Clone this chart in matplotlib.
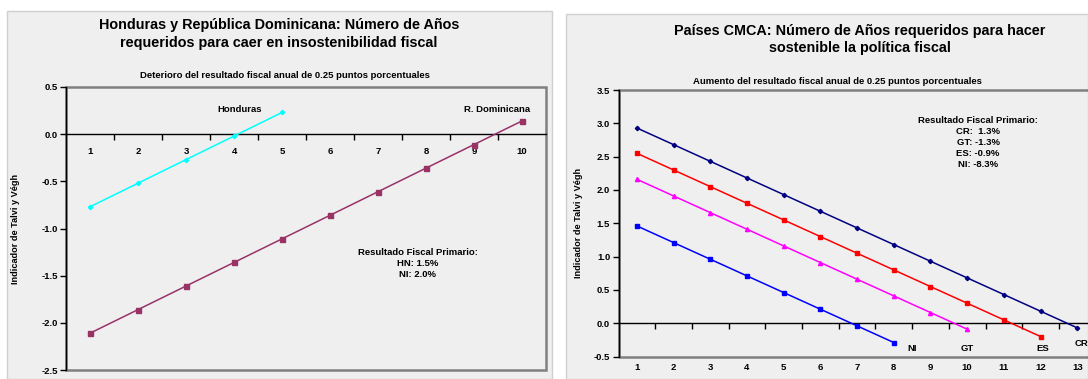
"""Recreate the two Talvi-Vegh sustainability panels (Honduras/RD and CMCA)."""

import matplotlib
matplotlib.use("Agg")
import matplotlib.pyplot as plt
import matplotlib.transforms as mtransforms
from matplotlib.patches import Rectangle

plt.rcParams["font.family"] = ["Liberation Sans", "DejaVu Sans"]
plt.rcParams["font.weight"] = "bold"

# --- left panel data -------------------------------------------------------
left_years = [1, 2, 3, 4, 5, 6, 7, 8, 9, 10]
honduras_years = [1, 2, 3, 4, 5]
honduras = [-0.77, -0.52, -0.27, -0.02, 0.23]
rdom_years = [1, 2, 3, 4, 5, 6, 7, 8, 9, 10]
rdom = [-2.11, -1.86, -1.61, -1.36, -1.11, -0.86, -0.61, -0.36, -0.11, 0.14]
left_yticks = [-2.5, -2.0, -1.5, -1.0, -0.5, 0.0, 0.5]

# --- right panel data ------------------------------------------------------
right_years = [1, 2, 3, 4, 5, 6, 7, 8, 9, 10, 11, 12, 13]
cr_years = [1, 2, 3, 4, 5, 6, 7, 8, 9, 10, 11, 12, 13]
cr = [2.93, 2.68, 2.43, 2.18, 1.93, 1.68, 1.43, 1.18, 0.93, 0.68, 0.43, 0.18, -0.07]
es_years = [1, 2, 3, 4, 5, 6, 7, 8, 9, 10, 11, 12]
es = [2.55, 2.30, 2.05, 1.80, 1.55, 1.30, 1.05, 0.80, 0.55, 0.30, 0.05, -0.20]
gt_years = [1, 2, 3, 4, 5, 6, 7, 8, 9, 10]
gt = [2.16, 1.91, 1.66, 1.41, 1.16, 0.91, 0.66, 0.41, 0.16, -0.09]
ni_years = [1, 2, 3, 4, 5, 6, 7, 8]
ni = [1.46, 1.21, 0.96, 0.71, 0.46, 0.21, -0.04, -0.29]
right_yticks = [-0.5, 0.0, 0.5, 1.0, 1.5, 2.0, 2.5, 3.0, 3.5]

W, H = 1088, 379
fig = plt.figure(figsize=(W / 100, H / 100), dpi=100)
fig.patch.set_facecolor("white")

SMALL = 6.8


def fx(px):
    return px / W


def fy(py):
    return 1 - py / H


# chart-area backgrounds
for x0, y0, x1 in [(7, 11, 552), (566, 14, 1088)]:
    fig.patches.append(Rectangle((fx(x0), 0), fx(x1 - x0), fy(y0), transform=fig.transFigure,
                                 facecolor="#EFEFEF", edgecolor="#D0D0D0", lw=1.0, zorder=-5))


def style_axes(ax, yticks):
    ax.set_facecolor("none")
    ax.patch.set_edgecolor("#808080")
    ax.patch.set_linewidth(1.8)
    for side in ["top", "right"]:
        ax.spines[side].set_visible(False)
    ax.spines["left"].set_color("black")
    ax.spines["left"].set_linewidth(1.0)
    ax.spines["bottom"].set_position(("data", 0))
    ax.spines["bottom"].set_color("black")
    ax.spines["bottom"].set_linewidth(1.0)
    ax.set_yticks(yticks)
    ax.set_yticklabels([f"{v:.1f}" for v in yticks])
    ax.tick_params(axis="y", direction="out", length=4, width=1, labelsize=SMALL, pad=2)
    ax.set_ylabel("Indicador de Talvi y Végh", fontsize=6.6, fontweight="bold")


# --- left panel ------------------------------------------------------------
axl = fig.add_axes([fx(66), fy(370), fx(546 - 66), fy(87) - fy(370)])
style_axes(axl, left_yticks)
axl.set_xlim(0.5, len(left_years) + 0.5)
axl.set_ylim(-2.5, 0.5)
axl.set_xticks(left_years)
axl.set_xticklabels([str(v) for v in left_years])
axl.set_xticks([v + 0.5 for v in left_years[:-1]], minor=True)
axl.tick_params(axis="x", which="major", length=0, labelsize=SMALL, pad=9)
axl.tick_params(axis="x", which="minor", direction="out", length=4, width=1)
axl.plot(honduras_years, honduras, color="#00FFFF", lw=1.1, marker="D", ms=2.2, zorder=3)
axl.plot(rdom_years, rdom, color="#993366", lw=1.1, marker="s", ms=3.6, zorder=3)
axl.text(4.12, 0.26, "Honduras", fontsize=SMALL, ha="center", va="center")
axl.text(9.48, 0.26, "R. Dominicana", fontsize=SMALL, ha="center", va="center")
axl.text(7.83, -1.37, "Resultado Fiscal Primario:\nHN: 1.5%\nNI: 2.0%", fontsize=SMALL,
         ha="center", va="center", multialignment="center", linespacing=1.3)
axl.yaxis.set_label_coords(-0.095, 0.5)

fig.text(fx(279), fy(25), "Honduras y República Dominicana: Número de Años",
         ha="center", va="center", fontsize=10.4, fontweight="bold")
fig.text(fx(279), fy(43), "requeridos para caer en insostenibilidad fiscal",
         ha="center", va="center", fontsize=10.4, fontweight="bold")
fig.text(fx(285), fy(76), "Deterioro del resultado fiscal anual de 0.25 puntos porcentuales",
         ha="center", va="center", fontsize=6.8, fontweight="bold")

# --- right panel -----------------------------------------------------------
n_slots = len(right_years) + 1
slot = 36.7
axr = fig.add_axes([fx(618.5), fy(356.5), fx(n_slots * slot), fy(90) - fy(356.5)])
style_axes(axr, right_yticks)
axr.set_xlim(0.5, n_slots + 0.5)
axr.set_ylim(-0.5, 3.5)
axr.set_xticks([])
axr.set_xticks([v + 0.5 for v in right_years], minor=True)
axr.tick_params(axis="x", which="minor", direction="out", length=4, width=1)
lowlab = mtransforms.blended_transform_factory(axr.transData, axr.transAxes)
for v in right_years:
    axr.text(v, -0.04, str(v), transform=lowlab, ha="center", va="center", fontsize=SMALL)

axr.plot(cr_years, cr, color="#000080", lw=1.1, marker="D", ms=2.2, zorder=3)
axr.plot(es_years, es, color="#FF0000", lw=1.1, marker="s", ms=3.4, zorder=3)
axr.plot(gt_years, gt, color="#FF00FF", lw=1.1, marker="^", ms=3.0, zorder=3)
axr.plot(ni_years, ni, color="#0000FF", lw=1.1, marker="s", ms=3.4, zorder=3)
axr.text(8.5, -0.385, "NI", fontsize=SMALL, ha="center", va="center")
axr.text(10.0, -0.385, "GT", fontsize=SMALL, ha="center", va="center")
axr.text(12.05, -0.385, "ES", fontsize=SMALL, ha="center", va="center")
axr.text(12.93, -0.31, "CR", fontsize=SMALL, ha="left", va="center")
axr.text(10.3, 2.71, "Resultado Fiscal Primario:\nCR:  1.3%\nGT: -1.3%\nES: -0.9%\nNI: -8.3%",
         fontsize=SMALL, ha="center", va="center", multialignment="center", linespacing=1.3)
axr.yaxis.set_label_coords(-0.07, 0.5)

fig.text(fx(860), fy(31), "Países CMCA: Número de Años requeridos para hacer",
         ha="center", va="center", fontsize=10.4, fontweight="bold")
fig.text(fx(860), fy(48), "sostenible la política fiscal",
         ha="center", va="center", fontsize=10.4, fontweight="bold")
fig.text(fx(837), fy(81), "Aumento del resultado fiscal anual de 0.25 puntos porcentuales",
         ha="center", va="center", fontsize=6.8, fontweight="bold")

fig.savefig("out.png", dpi=100)
plt.close(fig)
